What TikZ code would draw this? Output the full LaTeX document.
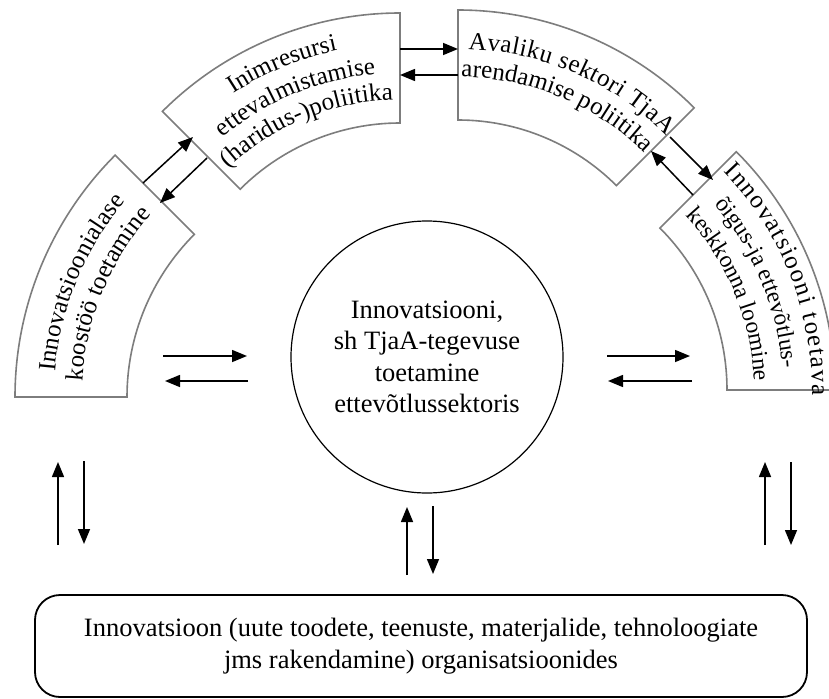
\documentclass[tikz,border=0pt]{standalone}
\usepackage{fontspec}
\setmainfont{Liberation Serif}
\usetikzlibrary{arrows.meta,calc,decorations.text}
\definecolor{segcol}{RGB}{125,125,125}
% #1 centre, #2 start angle, #3 end angle, #4 outer radius, #5 inner radius
\newcommand\ringseg[5]{\draw[segline] ($(#1)+(#2:#4)$) arc[start angle=#2,end angle=#3,radius=#4] -- ($(#1)+(#3:#5)$) arc[start angle=#3,end angle=#2,radius=#5] -- cycle;}
% [#1 font size] #2 centre, #3 start, #4 end, #5 radius, #6 align, #7 text
\newcommand\arctext[7][25pt]{\path[decorate,decoration={text along path,text align=#6,text={|\fontsize{#1}{28pt}\selectfont|#7}}] ($(#2)+(#3:#5)$) arc[start angle=#3,end angle=#4,radius=#5];}
\begin{document}
\begin{tikzpicture}[x=1pt,y=1pt,
  arr/.style={line width=1.5pt,-{Triangle[length=15pt,width=12pt]}},
  segline/.style={draw=segcol,line width=1.6pt,fill=white}]
\useasboundingbox (0,0) rectangle (829,-698);
% centres of the ring segments
\coordinate (c1) at (357,-397);
\coordinate (c2) at (400,-349);
\coordinate (c3) at (458,-344);
\coordinate (c4) at (498,-390);
% ring segments
\ringseg{c1}{180}{135}{342pt}{230pt}
\ringseg{c2}{135}{90}{336pt}{226pt}
\ringseg{c3}{90}{45}{334pt}{224pt}
\ringseg{c4}{45}{0}{337pt}{229pt}
% texts on the segments
\arctext{c1}{180}{135}{303pt}{center}{Innovatsioonialase}
\arctext{c1}{180}{135}{275pt}{center}{koostöö toetamine}
\arctext{c2}{135}{90}{305pt}{center}{Inimresursi}
\arctext{c2}{135}{90}{276pt}{center}{ettevalmistamise}
\arctext{c2}{135}{90}{249pt}{center}{(haridus-)poliitika}
\arctext{c3}{88}{45}{295pt}{fit to path}{Avaliku sektori TjaA}
\arctext{c3}{90}{45}{267pt}{center}{arendamise poliitika}
\arctext{c4}{44}{-1}{314pt}{fit to path}{Innovatsiooni toetava}
\arctext[23.5pt]{c4}{45}{0}{285pt}{center}{õigus-ja ettevõtlus-}
\arctext[23.5pt]{c4}{45}{0}{256pt}{center}{keskkonna loomine}
% centre circle
\node[draw,circle,line width=1.2pt,minimum size=272pt,inner sep=0pt,align=center,
  font=\fontsize{26.5pt}{31.5pt}\selectfont] (hub) at (427,-357)
  {Innovatsiooni,\\ sh TjaA-tegevuse\\ toetamine\\ ettevõtlussektoris};
% bottom box
\node[draw,rounded corners=25pt,line width=1.8pt,minimum width=772pt,minimum height=102pt,
  inner sep=0pt,align=center,font=\fontsize{26.5pt}{32pt}\selectfont] (org) at (421,-646)
  {Innovatsioon (uute toodete, teenuste, materjalide, tehnoloogiate\\ jms rakendamine) organisatsioonides};
% arrow end points
\coordinate (d1s) at (143,-183); \coordinate (d1e) at (193,-137);
\coordinate (d2s) at (207,-158); \coordinate (d2e) at (160,-203);
\coordinate (t1s) at (400,-49);  \coordinate (t1e) at (458,-49);
\coordinate (t2s) at (458,-75);  \coordinate (t2e) at (400,-75);
\coordinate (d3s) at (670,-137); \coordinate (d3e) at (713,-180);
\coordinate (d4s) at (693,-195); \coordinate (d4e) at (651,-151);
\coordinate (h1s) at (163,-356); \coordinate (h1e) at (247,-356);
\coordinate (h2s) at (248,-381); \coordinate (h2e) at (165,-381);
\coordinate (h3s) at (607,-356); \coordinate (h3e) at (690,-356);
\coordinate (h4s) at (692,-381); \coordinate (h4e) at (608,-381);
\coordinate (v1s) at (58,-545);  \coordinate (v1e) at (58,-462);
\coordinate (v2s) at (84,-461);  \coordinate (v2e) at (84,-544);
\coordinate (v3s) at (407,-575); \coordinate (v3e) at (407,-507);
\coordinate (v4s) at (433,-506); \coordinate (v4e) at (433,-574);
\coordinate (v5s) at (765,-545); \coordinate (v5e) at (765,-462);
\coordinate (v6s) at (791,-462); \coordinate (v6e) at (791,-545);
\foreach \a in {d1,d2,t1,t2,d3,d4,h1,h2,h3,h4,v1,v2,v3,v4,v5,v6}
  \draw[arr] (\a s) -- (\a e);
\end{tikzpicture}
\end{document}
